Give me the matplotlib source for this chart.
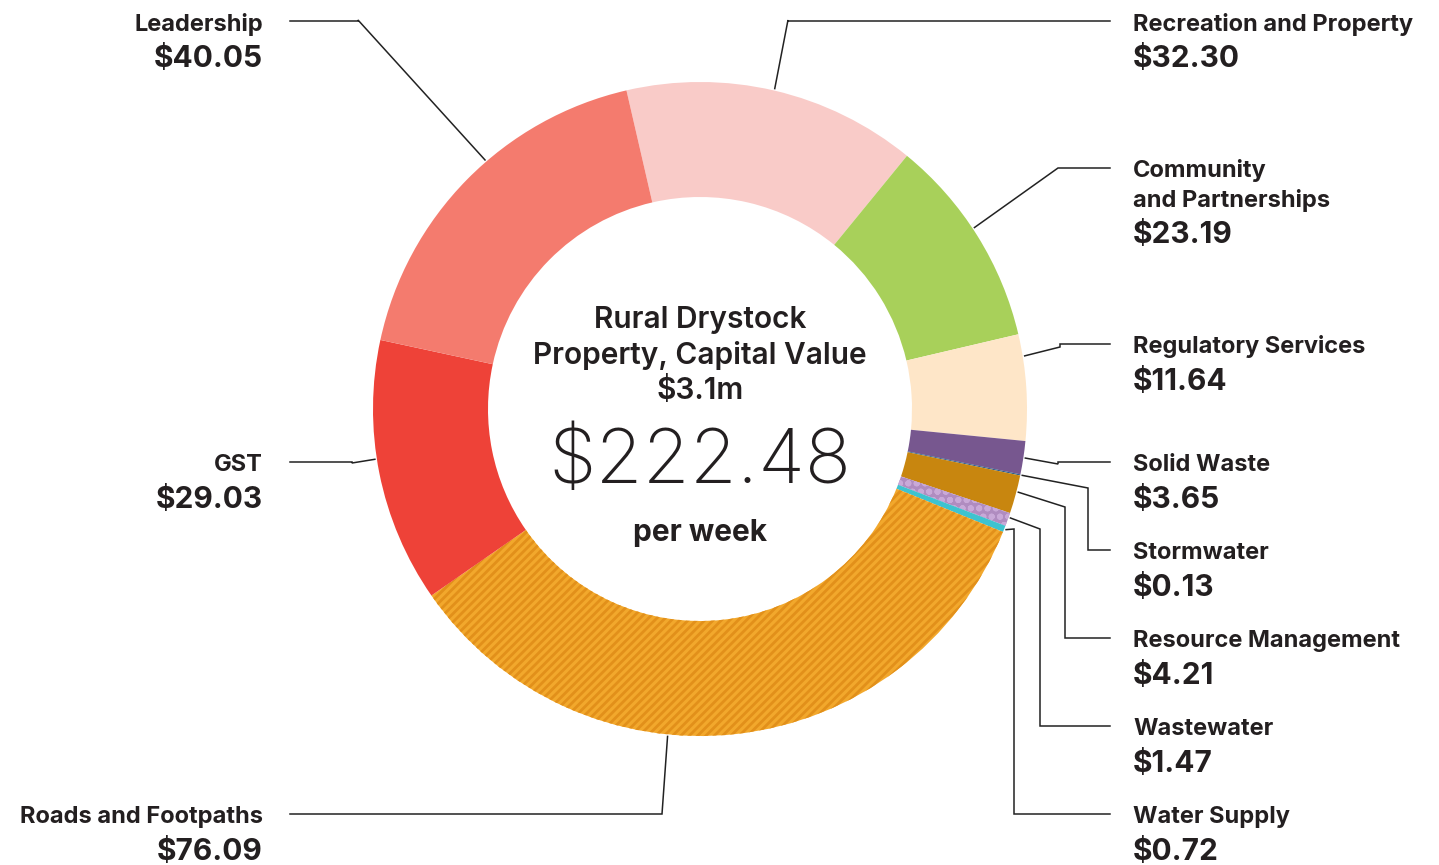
import numpy as np
import matplotlib
matplotlib.use("Agg")
import matplotlib.pyplot as plt

plt.rcParams['font.family'] = ['Inter', 'DejaVu Sans']
plt.rcParams['hatch.linewidth'] = 2.0

# rates per week, clockwise from the top
categories = ['Recreation and Property', 'Community\nand Partnerships', 'Regulatory Services',
              'Solid Waste', 'Stormwater', 'Resource Management', 'Wastewater',
              'Water Supply', 'Roads and Footpaths', 'GST', 'Leadership']
values = [32.30, 23.19, 11.64, 3.65, 0.13, 4.21, 1.47, 0.72, 76.09, 29.03, 40.05]
value_labels = ['$32.30', '$23.19', '$11.64', '$3.65', '$0.13', '$4.21', '$1.47',
                '$0.72', '$76.09', '$29.03', '$40.05']
total_label = '$222.48'
title_lines = ['Rural Drystock', 'Property, Capital Value', '$3.1m']

colors = ['#F9CBC8', '#A8D05A', '#FEE6C8', '#77578F', '#2D5E8C', '#C8860F',
          '#B08CC0', '#3EC3CF', '#F2A82C', '#EE4238', '#F47B6E']

H = 865
cx, cy, R, W = 700, H - 409, 327, 115

fig = plt.figure(figsize=(14.39, 8.65), dpi=100)
ax = fig.add_axes([0, 0, 1, 1])

wedges, _ = ax.pie(values, colors=colors, startangle=103, counterclock=False,
                   center=(cx, cy), radius=R,
                   wedgeprops=dict(width=W, linewidth=0))

# patterned slices
wedges[8].set_hatch('////')
wedges[8].set_edgecolor('#E2901A')
wedges[8].set_linewidth(0)
wedges[6].set_hatch('oo')
wedges[6].set_edgecolor('#C9A9D8')
wedges[6].set_linewidth(0)

ax.set_xlim(0, 1439)
ax.set_ylim(0, H)
ax.set_aspect('equal')
ax.axis('off')

# label layout: (side, text x, name y, elbow x, elbow y, angle tweak)
layout = [
    ('R', 1133, 24, 788, 20, 0),
    ('R', 1133, 171, 1058, 168, 1.5),
    ('R', 1133, 347, 1060, 347, 5.5),
    ('R', 1133, 465, 1058, 464, 0),
    ('R', 1133, 553, 1088, 488, 0),
    ('R', 1133, 641, 1065, 507, 0.5),
    ('R', 1133, 729, 1040, 529, 0.4),
    ('R', 1133, 817, 1014, 529, 0),
    ('L', 263, 817, 662, 814, -12),
    ('L', 263, 465, 352, 463, -2.5),
    ('L', 263, 24, 358, 20, -4.6),
]

ink = '#231F20'
for w, name, val, (side, tx, ny, ex, ey, tweak) in zip(wedges, categories, value_labels, layout):
    ang = np.deg2rad((w.theta1 + w.theta2) / 2 + tweak)
    ax_, ay_ = cx + (R + 2) * np.cos(ang), cy + (R + 2) * np.sin(ang)
    line_y = ny - 3
    end_x = 1110 if side == 'R' else 290
    xs = [ax_, ex, ex, end_x]
    ys = [ay_, H - ey, H - line_y, H - line_y]
    ax.plot(xs, ys, color='#222222', lw=1.1, solid_joinstyle='miter')
    ha = 'left' if side == 'R' else 'right'
    parts = name.split('\n')
    for i, part in enumerate(parts):
        ax.text(tx, H - (ny + i * 29), part, ha=ha, va='center', fontsize=17,
                fontweight='bold', color=ink)
    ax.text(tx, H - (ny + 35 + (len(parts) - 1) * 29), val, ha=ha, va='center',
            fontsize=21.5, fontweight='bold', color=ink)

for i, line in enumerate(title_lines):
    ax.text(cx, H - (320 + i * 35.5), line, ha='center', va='center', fontsize=21.5,
            fontweight='semibold', color=ink)
ax.text(cx, H - 463, total_label, ha='center', va='center', fontsize=55,
        fontweight='light', color=ink)
ax.text(cx, H - 533, 'per week', ha='center', va='center', fontsize=21.5,
        fontweight='bold', color=ink)

fig.savefig('out.png', dpi=100)
